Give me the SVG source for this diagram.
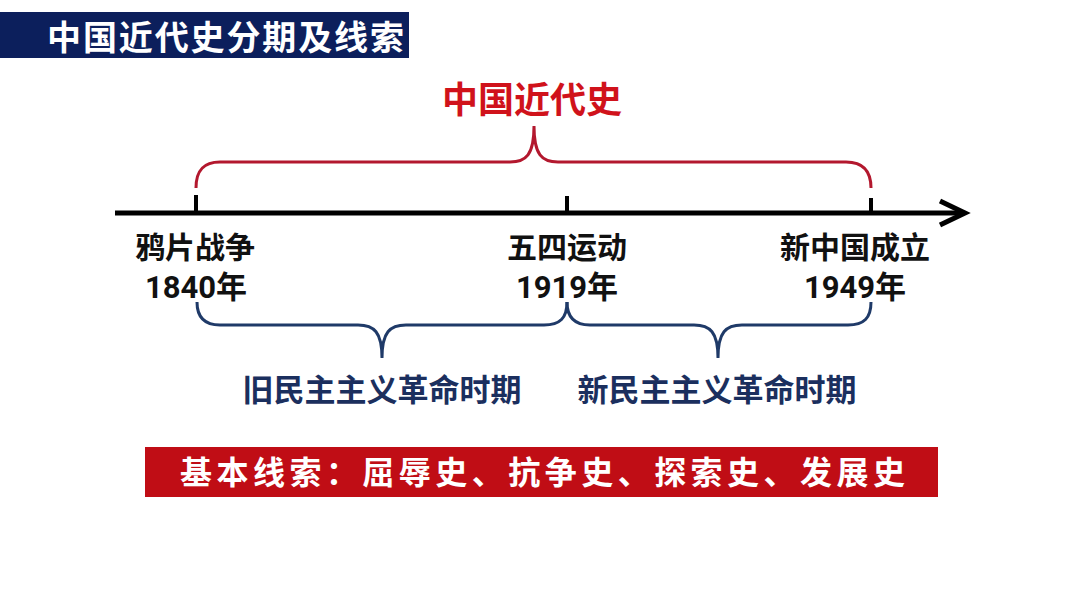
<svg xmlns="http://www.w3.org/2000/svg" width="1080" height="608" viewBox="0 0 1080 608">
<style>
text{font-family:"Noto Sans CJK SC","Noto Sans",sans-serif;font-weight:bold;}
.lbl{font-size:30px;fill:#111;text-anchor:middle;}
.num{font-size:31px;fill:#111;text-anchor:middle;font-family:Roboto,"Noto Sans CJK SC",sans-serif;}
.per{font-size:31px;fill:#1b2f5e;text-anchor:middle;}
.nb{fill:none;stroke:#1f3a68;stroke-width:3;}
.rb{fill:none;stroke:#b3182e;stroke-width:3;}
.tk{stroke:#000;stroke-width:4;}
</style>
<rect width="1080" height="608" fill="#fff"/>
<g id="header">
<rect x="0" y="12" width="409" height="46" fill="#0c1f5c"/>
<text x="47" y="50" font-size="34" fill="#fff" textLength="357">中国近代史分期及线索</text>
</g>
<g id="title">
<text x="532" y="113" font-size="36" fill="#d0121b" text-anchor="middle">中国近代史</text>
</g>
<g id="connectors">
<line x1="115" y1="213" x2="962" y2="213" stroke="#000" stroke-width="5"/>
<polyline points="940,201 965,213 940,225" fill="none" stroke="#000" stroke-width="5" stroke-linejoin="miter"/>
<line class="tk" x1="196" y1="195" x2="196" y2="213"/>
<line class="tk" x1="567" y1="196" x2="567" y2="213"/>
<line class="tk" x1="871" y1="198" x2="871" y2="213"/>
<path class="rb" d="M196,188 C196,170 204,162 220,162 L510,162 C526,162 534,155 534,126 C534,155 542,162 558,162 L846,162 C862,162 871,170 871,188"/>
<path class="nb" d="M197,302 C197,318 205,325 220,325 L358,325 C374,325 382,332 382,358 C382,332 390,325 406,325 L544,325 C560,325 567,318 567,302"/>
<path class="nb" d="M567,302 C567,318 575,325 590,325 L694,325 C710,325 718,332 718,358 C718,332 726,325 742,325 L848,325 C864,325 871,318 871,302"/>
</g>
<g id="node-1840">
<text class="lbl" x="195" y="258">鸦片战争</text>
<text class="num" x="196" y="298">1840年</text>
</g>
<g id="node-1919">
<text class="lbl" x="567" y="258">五四运动</text>
<text class="num" x="567" y="298">1919年</text>
</g>
<g id="node-1949">
<text class="lbl" x="855" y="258">新中国成立</text>
<text class="num" x="855" y="298">1949年</text>
</g>
<g id="period-old">
<text class="per" x="382" y="401">旧民主主义革命时期</text>
</g>
<g id="period-new">
<text class="per" x="717" y="401">新民主主义革命时期</text>
</g>
<g id="clues">
<rect x="145" y="447" width="793" height="50" fill="#c00d15"/>
<text x="180" y="484" font-size="32" fill="#fff" textLength="725">基本线索：屈辱史、抗争史、探索史、发展史</text>
</g>
</svg>
